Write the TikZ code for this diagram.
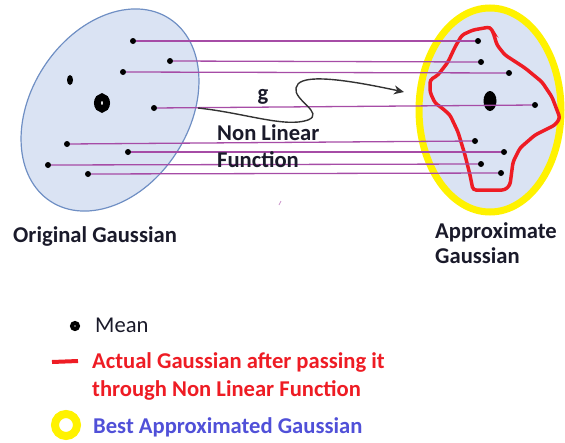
\documentclass[tikz,border=0pt]{standalone}
\usepackage{fontspec}
\setmainfont{Carlito}
\usetikzlibrary{arrows.meta,shapes.geometric}
\definecolor{ellfill}{HTML}{DAE3F3}
\definecolor{ellline}{HTML}{6F8FC4}
\definecolor{lin}{HTML}{A64CA6}
\definecolor{redc}{HTML}{EE1C24}
\definecolor{yel}{HTML}{FFF200}
\definecolor{bluet}{HTML}{5050D8}
\definecolor{txt}{HTML}{1A1A2A}
\begin{document}
\begin{tikzpicture}[x=1pt,y=1pt,
  dot/.style={circle,fill=black,inner sep=0pt,minimum size=6pt},
  conn/.style={draw=lin,line width=1.3pt},
  lbl/.style={font=\bfseries\fontsize{22.6}{27}\selectfont,text=txt,inner sep=0pt,anchor=base west},
  lblreg/.style={font=\fontsize{22.6}{27}\selectfont,text=txt,inner sep=0pt,anchor=base west},
  redlbl/.style={lbl,text=redc},
  bluelbl/.style={lbl,text=bluet}]
\useasboundingbox (0,0) rectangle (565,-442);
% left ellipse
\draw[ellline,fill=ellfill,line width=1.2pt,rotate around={57:(110,-110)}]
  (110,-110) ellipse [x radius=109, y radius=79];
% right ellipse
\draw[yel,fill=ellfill,line width=7pt] (490,-110) ellipse [x radius=71, y radius=102];
% red contour
\draw[redc,line width=3.5pt,rounded corners=3pt] (462,-35) -- (473,-30) -- (490,-27) -- (493,-32)
  -- (497,-45) -- (505,-55) -- (525,-68) -- (542,-82) -- (552,-97) -- (560,-118)
  -- (555,-125) -- (535,-135) -- (520,-148) -- (513,-162) -- (510,-185) -- (505,-190)
  -- (473,-190) -- (470,-175) -- (465,-155) -- (458,-132) -- (450,-115) -- (442,-108)
  -- (435,-103) -- (430,-92) -- (430,-80) -- (438,-75) -- (448,-62) -- (455,-47) -- cycle;
% left points
\node[dot] (l1) at (133,-41) {};
\node[dot] (l2) at (170,-61) {};
\node[dot] (l3) at (123,-72) {};
\node[dot] (l4) at (154,-108) {};
\node[dot] (l5) at (67,-144) {};
\node[dot] (l6) at (128,-152) {};
\node[dot] (l7) at (48,-165) {};
\node[dot] (l8) at (88,-174) {};
\node[ellipse,fill=black,inner sep=0pt,minimum width=6pt,minimum height=10pt] (lx) at (70,-80) {};
\node[ellipse,draw=black,line width=7pt,fill=white,inner sep=0pt,minimum width=9pt,minimum height=12pt] (lmean) at (102,-103) {};
% right points
\node[dot] (r1) at (478,-41) {};
\node[dot] (r2) at (481,-62) {};
\node[dot] (r3) at (509,-73) {};
\node[dot] (r4) at (535,-105) {};
\node[dot] (r5) at (475,-141) {};
\node[dot] (r6) at (504,-152) {};
\node[dot] (r7) at (481,-164) {};
\node[dot] (r8) at (501,-173) {};
\node[ellipse,fill=black,inner sep=0pt,minimum width=13pt,minimum height=20pt] (rmean) at (490,-101) {};
% connectors
\foreach \i in {1,...,8} { \draw[conn] (l\i) -- (r\i); }
% nonlinear function arrow
\coordinate (gs) at (198,-108);
\coordinate (ge) at (404,-92);
\draw[black!80,line width=1.4pt,-{Stealth[length=10pt,width=9pt]}]
  (gs) .. controls (245,-113) and (285,-128) .. (308,-120)
       .. controls (325,-113) and (293,-100) .. (296,-88)
       .. controls (298,-75) and (330,-76) .. (ge);
\draw[lin!60,line width=0.8pt] (279,-205) -- (281,-201);
% labels
\node[lbl,anchor=base] (g) at (263,-100) {g};
\node[lbl] (nl) at (217,-140) {Non Linear};
\node[lbl] (fn) at (217,-167) {Function};
\node[lbl] (orig) at (13,-242) {Original Gaussian};
\node[lbl] (appr1) at (435,-238) {Approximate};
\node[lbl] (appr2) at (435,-263) {Gaussian};
% legend
\node[circle,draw=black,line width=4pt,fill=white,inner sep=0pt,minimum size=6pt] (legm) at (75,-326) {};
\node[lblreg] (legmt) at (95,-332) {Mean};
\coordinate (lr1) at (52,-362);
\coordinate (lr2) at (78,-361);
\draw[redc,line width=4pt] (lr1) -- (lr2);
\node[redlbl] (legr1) at (92,-368) {Actual Gaussian after passing it};
\node[redlbl] (legr2) at (92,-396) {through Non Linear Function};
\node[circle,draw=yel,line width=8pt,fill=white,inner sep=0pt,minimum size=22pt] (legy) at (66,-425) {};
\node[bluelbl] (legb) at (93,-433) {Best Approximated Gaussian};
\end{tikzpicture}
\end{document}
